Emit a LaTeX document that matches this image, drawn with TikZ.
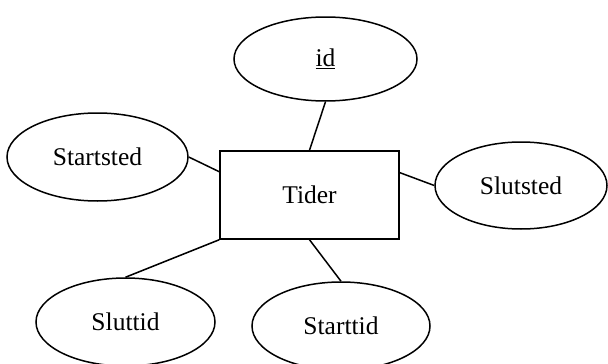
\documentclass[tikz,border=0pt]{standalone}
\usepackage{fontspec}
\setmainfont{Liberation Serif}
\usetikzlibrary{shapes.geometric,calc}
\begin{document}
\begin{tikzpicture}[x=1pt,y=-1pt,
  every node/.style={font=\fontsize{25.5}{30}\selectfont, inner sep=0pt},
  attr/.style={draw, ellipse, line width=1.5pt},
  entity/.style={draw, rectangle, line width=1.5pt},
  link/.style={line width=1.5pt}]
\useasboundingbox (0,0) rectangle (608,364);

% entity
\node[entity, minimum width=179pt, minimum height=88pt] (tider) at (309.5,195) {Tider};

% attributes
\node[attr, minimum width=183pt, minimum height=84pt] (id) at (325.5,59) {\underline{id}};
\node[attr, minimum width=181pt, minimum height=88pt] (startsted) at (97.5,157) {Startsted};
\node[attr, minimum width=172pt, minimum height=87pt] (slutsted) at (521,185.5) {Slutsted};
\node[attr, minimum width=179pt, minimum height=88pt] (sluttid) at (125.5,322) {Sluttid};
\node[attr, minimum width=178pt, minimum height=88pt] (starttid) at (341,326) {Starttid};

% connectors
\draw[link] (id.south) -- (tider.north);
\draw[link] (startsted.east) -- ($(tider.north west)!0.24!(tider.south west)$);
\draw[link] ($(tider.north east)!0.25!(tider.south east)$) -- (slutsted.west);
\draw[link] (tider.south west) -- (sluttid.north);
\draw[link] (tider.south) -- (starttid.north);
\end{tikzpicture}
\end{document}
